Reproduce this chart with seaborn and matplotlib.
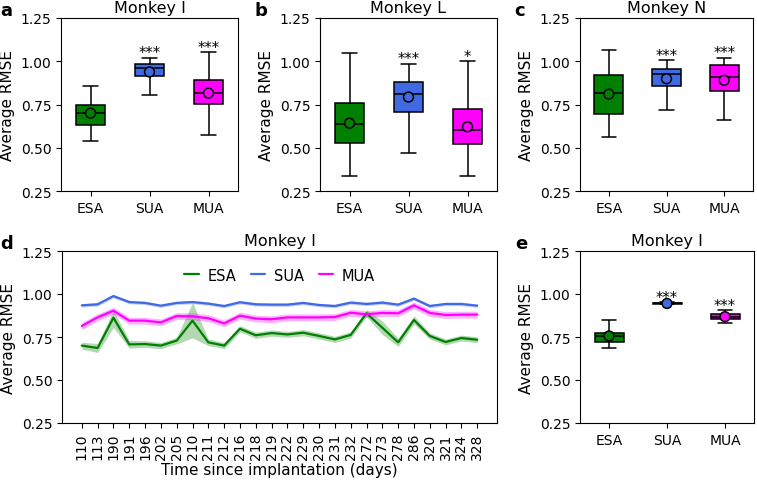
import numpy as np
import pandas as pd
import matplotlib
matplotlib.use("Agg")
import matplotlib.pyplot as plt
import seaborn as sns

sns.set_style("ticks")
plt.rcParams['font.family'] = ['DejaVu Sans']
plt.rcParams['axes.edgecolor'] = 'black'
plt.rcParams['xtick.color'] = 'black'
plt.rcParams['ytick.color'] = 'black'
plt.rcParams['text.color'] = 'black'
plt.rcParams['axes.labelcolor'] = 'black'

# box summaries: whisker low, q1, median, q3, whisker high
signals = ['ESA', 'SUA', 'MUA']
colors = ['green', 'royalblue', 'magenta']

box_a = {'ESA': [0.538, 0.632, 0.700, 0.745, 0.859],
         'SUA': [0.803, 0.913, 0.959, 0.986, 1.021],
         'MUA': [0.571, 0.752, 0.818, 0.894, 1.054]}
mean_a = [0.700, 0.938, 0.816]
stars_a = ['', '***', '***']

box_b = {'ESA': [0.336, 0.530, 0.638, 0.758, 1.050],
         'SUA': [0.472, 0.709, 0.810, 0.882, 0.986],
         'MUA': [0.338, 0.520, 0.602, 0.725, 1.000]}
mean_b = [0.642, 0.793, 0.621]
stars_b = ['', '***', '*']

box_c = {'ESA': [0.565, 0.694, 0.816, 0.919, 1.064],
         'SUA': [0.720, 0.855, 0.928, 0.957, 1.008],
         'MUA': [0.663, 0.830, 0.909, 0.977, 1.021]}
mean_c = [0.810, 0.899, 0.890]
stars_c = ['', '***', '***']

box_e = {'ESA': [0.684, 0.719, 0.756, 0.775, 0.849],
         'SUA': [0.940, 0.942, 0.945, 0.948, 0.951],
         'MUA': [0.829, 0.855, 0.868, 0.882, 0.907]}
mean_e = [0.756, 0.945, 0.868]
stars_e = ['', '***', '***']

# panel d time course
days = ['110', '113', '190', '191', '196', '202', '205', '210', '211', '212', '216', '218', '219',
        '222', '229', '230', '231', '232', '272', '273', '278', '286', '320', '321', '324', '328']
esa_mean = [0.700, 0.686, 0.862, 0.707, 0.709, 0.700, 0.729, 0.845, 0.719, 0.700, 0.798, 0.760, 0.773,
            0.765, 0.775, 0.756, 0.736, 0.762, 0.888, 0.804, 0.719, 0.849, 0.756, 0.721, 0.744, 0.734]
esa_lo = [0.680, 0.660, 0.805, 0.685, 0.690, 0.682, 0.710, 0.745, 0.700, 0.682, 0.780, 0.742, 0.755,
          0.748, 0.757, 0.738, 0.718, 0.744, 0.868, 0.765, 0.695, 0.825, 0.738, 0.704, 0.727, 0.717]
esa_hi = [0.720, 0.712, 0.905, 0.730, 0.728, 0.718, 0.748, 0.950, 0.738, 0.718, 0.816, 0.778, 0.791,
          0.782, 0.793, 0.774, 0.754, 0.780, 0.908, 0.843, 0.743, 0.873, 0.774, 0.738, 0.761, 0.751]
sua_mean = [0.934, 0.940, 0.988, 0.953, 0.948, 0.932, 0.948, 0.953, 0.944, 0.930, 0.952, 0.940, 0.938,
            0.938, 0.948, 0.936, 0.930, 0.950, 0.942, 0.950, 0.938, 0.973, 0.930, 0.942, 0.942, 0.932]
mua_mean = [0.814, 0.864, 0.903, 0.845, 0.845, 0.835, 0.872, 0.870, 0.859, 0.829, 0.874, 0.857, 0.853,
            0.864, 0.864, 0.864, 0.866, 0.891, 0.882, 0.890, 0.888, 0.934, 0.890, 0.878, 0.880, 0.880]
sua_err = 0.010
mua_err = 0.020

W, H = 757, 481
fig = plt.figure(figsize=(W / 100, H / 100), dpi=100)


def px_axes(left, top, right, bottom):
    return fig.add_axes([left / W, (H - bottom) / H, (right - left) / W, (bottom - top) / H])


def box_panel(ax, box, means, stars, title):
    rows = []
    for s in signals:
        for v in box[s]:
            rows.append({'signal': s, 'rmse': v})
    df = pd.DataFrame(rows)
    sns.boxplot(data=df, x='signal', y='rmse', hue='signal', order=signals,
                palette=colors, saturation=1, width=0.5, whis=(0, 100),
                linecolor='black', linewidth=1.1, legend=False, ax=ax)
    sns.scatterplot(x=signals, y=means, hue=signals, palette=colors, s=50,
                    edgecolor='black', linewidth=1.1, legend=False, zorder=5, ax=ax)
    for i, s in enumerate(signals):
        if stars[i]:
            ax.text(i, box[s][4] + 0.002, stars[i], ha='center', va='baseline', fontsize=10.5)
    ax.set_ylim(0.25, 1.25)
    ax.set_xlim(-0.5, 2.5)
    ax.set_yticks([0.25, 0.5, 0.75, 1.0, 1.25])
    ax.set_xlabel('')
    ax.set_ylabel('Average RMSE', fontsize=11)
    ax.set_title(title, fontsize=11.5, pad=4)
    ax.tick_params(labelsize=10)


ax_a = px_axes(61, 19, 238, 192)
box_panel(ax_a, box_a, mean_a, stars_a, 'Monkey I')
ax_b = px_axes(320, 19, 497, 192)
box_panel(ax_b, box_b, mean_b, stars_b, 'Monkey L')
ax_c = px_axes(580, 19, 753, 192)
box_panel(ax_c, box_c, mean_c, stars_c, 'Monkey N')
ax_e = px_axes(580, 252, 754, 424)
box_panel(ax_e, box_e, mean_e, stars_e, 'Monkey I')

ax_d = px_axes(62, 252, 497, 424)
pos = np.arange(len(days))
line_df = pd.DataFrame({'pos': np.tile(pos, 3),
                        'rmse': esa_mean + sua_mean + mua_mean,
                        'signal': np.repeat(signals, len(days))})
sns.lineplot(data=line_df, x='pos', y='rmse', hue='signal', palette=colors,
             linewidth=1.6, ax=ax_d)
ax_d.fill_between(pos, esa_lo, esa_hi, color='green', alpha=0.3, linewidth=0)
ax_d.fill_between(pos, np.array(sua_mean) - sua_err, np.array(sua_mean) + sua_err,
                  color='royalblue', alpha=0.3, linewidth=0)
ax_d.fill_between(pos, np.array(mua_mean) - mua_err, np.array(mua_mean) + mua_err,
                  color='magenta', alpha=0.3, linewidth=0)
ax_d.set_ylim(0.25, 1.25)
ax_d.set_yticks([0.25, 0.5, 0.75, 1.0, 1.25])
ax_d.set_xticks(pos)
ax_d.set_xticklabels(days, rotation=90)
ax_d.set_xlim(-1.25, len(days) - 1 + 1.25)
ax_d.tick_params(labelsize=10)
ax_d.set_xlabel('Time since implantation (days)', fontsize=11, labelpad=2)
ax_d.set_ylabel('Average RMSE', fontsize=11)
ax_d.set_title('Monkey I', fontsize=11.5, pad=4)
ax_d.legend(loc='upper center', bbox_to_anchor=(0.5, 0.98), ncol=3, frameon=False,
            fontsize=10.5, handlelength=1.0, columnspacing=1.0, handletextpad=0.6)

for letter, x, y in [('a', 0, 2), ('b', 254, 2), ('c', 514, 2), ('d', 0, 235), ('e', 515, 235)]:
    fig.text(x / W, 1 - y / H, letter, fontsize=13, fontweight='bold', va='top', ha='left')

fig.savefig('out.png', dpi=100)
